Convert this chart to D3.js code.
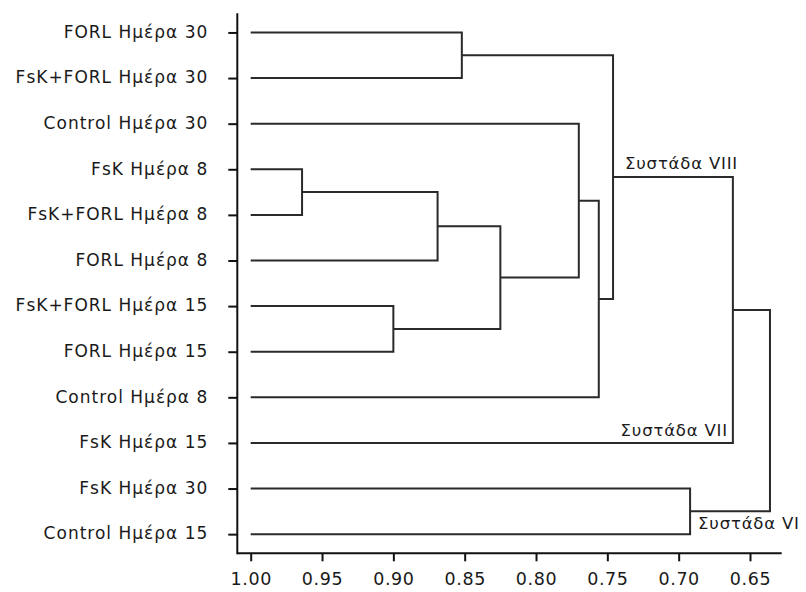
<!DOCTYPE html>
<html>
<head>
<meta charset="utf-8">
<script src="https://cdn.jsdelivr.net/npm/d3@7"></script>
<style>
  html, body { margin: 0; padding: 0; background: #fff; }
  svg { display: block; }
  text { font-family: "DejaVu Sans", sans-serif; fill: #1a1a1a; }
</style>
</head>
<body>
<svg id="chart" width="806" height="592"></svg>
<script>
// ---- DATA ----
const leaves = [
  "FORL Ημέρα 30",
  "FsK+FORL Ημέρα 30",
  "Control Ημέρα 30",
  "FsK Ημέρα 8",
  "FsK+FORL Ημέρα 8",
  "FORL Ημέρα 8",
  "FsK+FORL Ημέρα 15",
  "FORL Ημέρα 15",
  "Control Ημέρα 8",
  "FsK Ημέρα 15",
  "FsK Ημέρα 30",
  "Control Ημέρα 15"
];
// merges: node id = leaves.length + index
const mergeLeft   = [0, 3, 13, 6, 14, 2, 17, 12, 19, 10, 20];
const mergeRight  = [1, 4, 5, 7, 15, 16, 8, 18, 9, 11, 21];
const mergeHeight = [0.852, 0.964, 0.869, 0.900, 0.825, 0.770, 0.756, 0.746, 0.662, 0.692, 0.636];
const xTicks = [1.00, 0.95, 0.90, 0.85, 0.80, 0.75, 0.70, 0.65];
const clusterNames = ["Συστάδα VIII", "Συστάδα VII", "Συστάδα VI"];
const clusterNodes = [19, 20, 21];

// ---- LAYOUT ----
const svg = d3.select("#chart");
const axisX0 = 237.3, axisX1 = 781.7, axisYTop = 13.3, axisYBot = 553.3;

const x = d3.scaleLinear().domain([1.0, 0.65]).range([250.7, 750]);
const y = d3.scalePoint().domain(leaves).range([axisYTop, axisYBot]).padding(0.42);

// node positions
const nodeX = [], nodeY = [];
leaves.forEach((l, i) => { nodeX[i] = x(1.0); nodeY[i] = y(l); });
mergeHeight.forEach((h, k) => {
  const id = leaves.length + k;
  nodeX[id] = x(h);
  nodeY[id] = (nodeY[mergeLeft[k]] + nodeY[mergeRight[k]]) / 2;
});

// dendrogram links
const g = svg.append("g");
mergeHeight.forEach((h, k) => {
  const id = leaves.length + k;
  const a = mergeLeft[k], b = mergeRight[k];
  const p = d3.path();
  p.moveTo(nodeX[a], nodeY[a]);
  p.lineTo(nodeX[id], nodeY[a]);
  p.lineTo(nodeX[id], nodeY[b]);
  p.lineTo(nodeX[b], nodeY[b]);
  g.append("path").attr("d", p.toString())
    .attr("fill", "none").attr("stroke", "#2a2a2a").attr("stroke-width", 2)
    .attr("stroke-linejoin", "miter");
});

// axes
const yAxis = d3.axisLeft(y).tickSize(9).tickPadding(20).tickSizeOuter(0);
const gy = svg.append("g").attr("transform", `translate(${axisX0},0)`).call(yAxis);
gy.select(".domain").remove();
gy.selectAll(".tick line").attr("stroke", "#111").attr("stroke-width", 2);
gy.selectAll(".tick text").style("font-size", "17px").style("letter-spacing", "1px")
  .attr("fill", "#1a1a1a").attr("font-family", null).attr("dy", "0.28em");

const xAxis = d3.axisBottom(x).tickValues(xTicks).tickFormat(d3.format(".2f"))
  .tickSize(8).tickPadding(11).tickSizeOuter(0);
const gx = svg.append("g").attr("transform", `translate(0,${axisYBot})`).call(xAxis);
gx.select(".domain").remove();
gx.selectAll(".tick line").attr("stroke", "#111").attr("stroke-width", 2);
gx.selectAll(".tick text").style("font-size", "17.5px").style("letter-spacing", "0.6px")
  .attr("fill", "#1a1a1a").attr("font-family", null);

// axis lines
svg.append("line").attr("x1", axisX0).attr("x2", axisX0)
  .attr("y1", axisYTop).attr("y2", axisYBot + 1)
  .attr("stroke", "#111").attr("stroke-width", 2);
svg.append("line").attr("x1", axisX0).attr("x2", axisX1)
  .attr("y1", axisYBot).attr("y2", axisYBot)
  .attr("stroke", "#111").attr("stroke-width", 2);

// cluster labels
const lblStyle = sel => sel.style("font-size", "16.5px").style("letter-spacing", "0.8px");
// VIII: just right of its vertical, above its outgoing horizontal
svg.append("text").call(lblStyle)
  .attr("x", nodeX[clusterNodes[0]] + 12).attr("y", nodeY[clusterNodes[0]] - 8)
  .text(clusterNames[0]);
// VII: right-aligned at its vertical, above the lowest joined leaf
svg.append("text").call(lblStyle).attr("text-anchor", "end")
  .attr("x", nodeX[clusterNodes[1]] - 5).attr("y", nodeY[9] - 7)
  .text(clusterNames[1]);
// VI: right of its vertical, below root horizontal
svg.append("text").call(lblStyle)
  .attr("x", nodeX[clusterNodes[2]] + 8).attr("y", nodeY[clusterNodes[2]] + 18)
  .text(clusterNames[2]);
</script>
</body>
</html>
